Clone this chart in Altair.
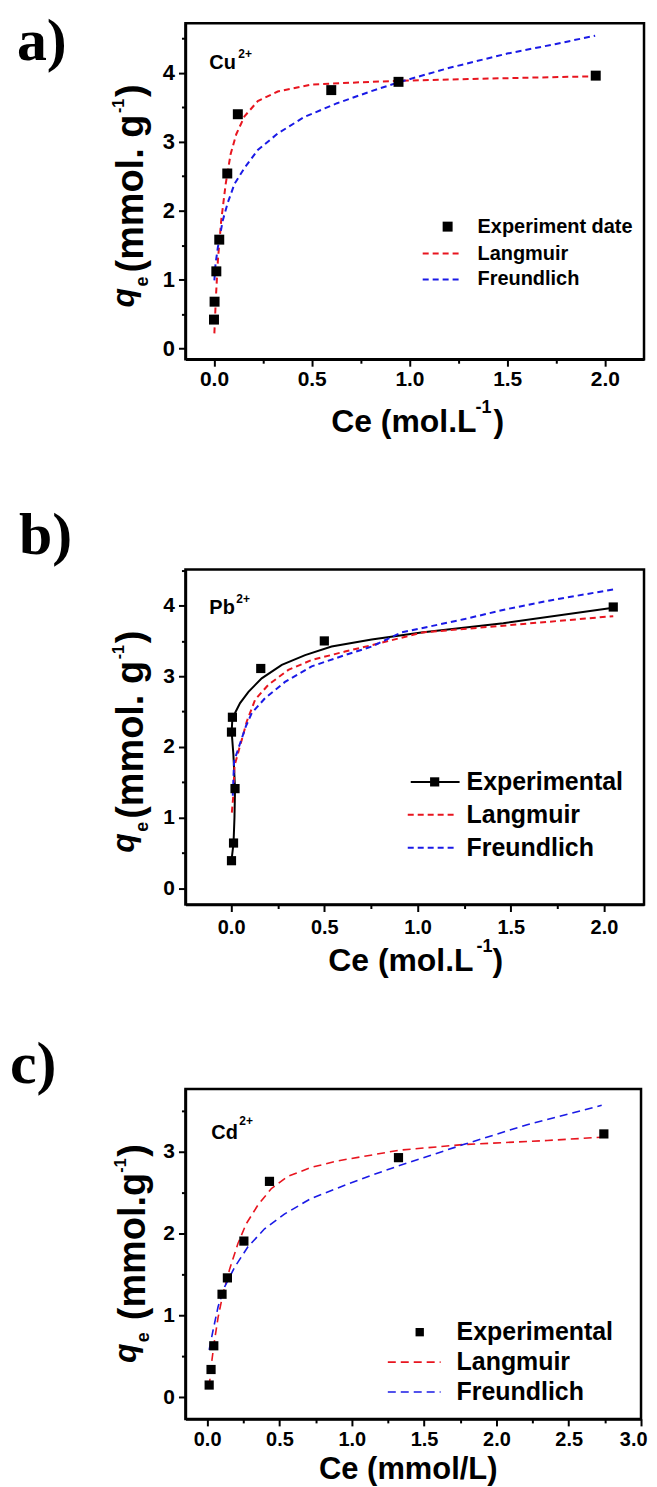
import altair as alt
import pandas as pd

SANS = "Liberation Sans, Arial, Helvetica, sans-serif"
SERIF = "Liberation Serif, Times New Roman, serif"
RED = "#e8151f"
BLUE = "#1a1ae6"

# ---------------- Panel a (Cu2+) ----------------
a_exp_x = [0.0, 0.003, 0.012, 0.027, 0.068, 0.122, 0.60, 0.944, 1.953]
a_exp_y = [0.42, 0.68, 1.12, 1.58, 2.54, 3.40, 3.75, 3.87, 3.96]
a_lan_x = [0.002, 0.01, 0.02, 0.037, 0.06, 0.085, 0.114, 0.156, 0.224, 0.326, 0.496, 0.80, 1.0, 1.3, 1.6, 1.95]
a_lan_y = [0.22, 0.75, 1.28, 1.86, 2.39, 2.82, 3.11, 3.37, 3.59, 3.73, 3.83, 3.87, 3.89, 3.91, 3.93, 3.95]
a_fre_x = [0.002, 0.008, 0.02, 0.029, 0.045, 0.071, 0.105, 0.156, 0.224, 0.326, 0.462, 0.63, 0.80, 0.94, 1.2, 1.5, 1.75, 1.95]
a_fre_y = [0.99, 1.23, 1.47, 1.61, 1.86, 2.12, 2.39, 2.62, 2.88, 3.12, 3.36, 3.56, 3.73, 3.86, 4.07, 4.28, 4.42, 4.54]

# ---------------- Panel b (Pb2+) ----------------
b_exp_x = [0.002, 0.013, 0.021, 0.002, 0.007, 0.159, 0.50, 2.05]
b_exp_y = [0.39, 0.64, 1.41, 2.21, 2.42, 3.11, 3.50, 3.98]
b_trend_x = [0.002, 0.013, 0.018, 0.021, 0.012, 0.003, 0.007, 0.021, 0.048, 0.093, 0.164, 0.272, 0.397, 0.539, 0.754, 1.02, 1.46, 2.05]
b_trend_y = [0.39, 0.64, 1.0, 1.41, 1.9, 2.21, 2.42, 2.48, 2.62, 2.78, 2.97, 3.16, 3.30, 3.42, 3.52, 3.62, 3.75, 3.97]
b_lan_x = [0.004, 0.013, 0.018, 0.045, 0.057, 0.084, 0.129, 0.2, 0.307, 0.432, 0.611, 0.754, 1.027, 1.478, 2.05]
b_lan_y = [1.07, 1.35, 1.73, 1.99, 2.10, 2.36, 2.67, 2.88, 3.09, 3.23, 3.35, 3.44, 3.62, 3.72, 3.85]
b_fre_x = [0.009, 0.016, 0.079, 0.111, 0.182, 0.289, 0.432, 0.611, 0.754, 0.914, 1.253, 1.478, 1.704, 2.053]
b_fre_y = [1.31, 1.80, 2.29, 2.48, 2.69, 2.92, 3.14, 3.30, 3.42, 3.62, 3.81, 3.95, 4.07, 4.23]

# ---------------- Panel c (Cd2+) ----------------
c_exp_x = [0.014, 0.027, 0.046, 0.103, 0.14, 0.254, 0.431, 1.323, 2.743]
c_exp_y = [0.15, 0.34, 0.63, 1.26, 1.46, 1.91, 2.64, 2.93, 3.22]
c_lan_x = [0.014, 0.03, 0.048, 0.076, 0.11, 0.156, 0.213, 0.27, 0.351, 0.443, 0.557, 0.718, 0.901, 1.131, 1.323, 1.772, 2.352, 2.728]
c_lan_y = [0.13, 0.41, 0.66, 0.98, 1.27, 1.57, 1.88, 2.12, 2.35, 2.55, 2.70, 2.81, 2.89, 2.96, 3.02, 3.09, 3.14, 3.18]
c_fre_x = [0.014, 0.041, 0.076, 0.121, 0.19, 0.282, 0.397, 0.534, 0.718, 0.947, 1.131, 1.323, 1.772, 2.207, 2.728]
c_fre_y = [0.58, 0.82, 1.11, 1.35, 1.59, 1.84, 2.06, 2.24, 2.43, 2.59, 2.71, 2.83, 3.09, 3.33, 3.57]

ONE = alt.Data(values=[{"k": 0}])


def df(xs, ys):
    return pd.DataFrame({"x": xs, "y": ys, "i": list(range(len(xs)))})


def txt(s, x, y, size, align="left", baseline="alphabetic", font=SANS, weight="bold",
        style="normal", angle=0, color="black"):
    return alt.Chart(ONE).mark_text(
        text=s, fontSize=size, align=align, baseline=baseline, font=font,
        fontWeight=weight, fontStyle=style, angle=angle, color=color
    ).encode(x=alt.value(x), y=alt.value(y))


def hline(x1, x2, y, color, dash=None, width=2):
    kw = dict(color=color, strokeWidth=width)
    if dash:
        kw["strokeDash"] = dash
    return alt.Chart(ONE).mark_rule(**kw).encode(
        x=alt.value(x1), x2=alt.value(x2), y=alt.value(y))


def square(x, y, size):
    return alt.Chart(ONE).mark_point(shape="square", filled=True, size=size,
                                     color="black", opacity=1).encode(
        x=alt.value(x), y=alt.value(y))


def steps(lo, hi, st):
    out = []
    v = lo
    while v <= hi + 1e-9:
        out.append(round(v, 3))
        v += st
    return out


XMAJ = "datum.value % 0.5 === 0"
YMAJ = "datum.value % 1 === 0"


def enc(xdom, ydom, xvals, yvals, lab_size, xpad, flush=False):
    xkw = dict(values=xvals,
               labelExpr=XMAJ + " ? format(datum.value, '.1f') : ''",
               title=None, grid=False, labelFontSize=lab_size, labelPadding=xpad,
               labelFlush=flush, labelOverlap=False,
               tickSize={"condition": {"test": XMAJ, "value": 7}, "value": 4})
    if flush:
        xkw["labelFlushOffset"] = 6
    xax = alt.Axis(**xkw)
    yax = alt.Axis(values=yvals, labelExpr=YMAJ + " ? format(datum.value, 'd') : ''",
                   title=None, grid=False, labelFontSize=lab_size + 1, labelPadding=4,
                   labelOverlap=False,
                   tickSize={"condition": {"test": YMAJ, "value": 7}, "value": 4})
    x = alt.X("x:Q", scale=alt.Scale(domain=xdom, nice=False, zero=False), axis=xax)
    y = alt.Y("y:Q", scale=alt.Scale(domain=ydom, nice=False, zero=False), axis=yax)
    return x, y


def curve(data, x, y, color, dash, width):
    return alt.Chart(data).mark_line(color=color, strokeDash=dash, strokeWidth=width).encode(
        x=x, y=y, order="i:Q")


def ytitle(qx, qy, ex, ey, mx, my, main, sx, sy, px, py):
    return [
        txt("q", qx, qy, 32, style="italic", angle=270),
        txt("e", ex, ey, 18, angle=270),
        txt(main, mx, my, 38, angle=270),
        txt("-1", sx, sy, 16, angle=270),
        txt(")", px, py, 38, angle=270),
    ]


def spacer(y):
    return alt.Chart(ONE).mark_rule(color="white", strokeWidth=1).encode(
        x=alt.value(0), x2=alt.value(2), y=alt.value(y))


# ---------- panel a ----------
xa, ya = enc([-0.146, 2.2], [-0.155, 4.72], steps(0, 2.0, 0.25), steps(0, 4.5, 0.5), 21, 2)
pa_layers = [
    curve(df(a_lan_x, a_lan_y), xa, ya, RED, [6, 4], 2),
    curve(df(a_fre_x, a_fre_y), xa, ya, BLUE, [6, 4], 2),
    alt.Chart(df(a_exp_x, a_exp_y)).mark_point(shape="square", filled=True, size=100,
                                               color="black", opacity=1).encode(x=xa, y=ya),
    txt("a)", -169, -10, 60, font=SERIF, baseline="top"),
    txt("Cu", 24, 46, 20),
    txt("2+", 53, 35, 12),
    square(263, 204, 100),
    txt("Experiment date", 293, 204, 20, baseline="middle"),
    hline(238, 278, 231, RED, [6, 4]),
    txt("Langmuir", 293, 231, 20, baseline="middle"),
    hline(238, 278, 257, BLUE, [6, 4]),
    txt("Freundlich", 293, 257, 20, baseline="middle"),
    txt("Ce (mol.L", 292, 410, 32, align="right"),
    txt("-1", 291, 391, 18),
    txt(")", 309, 410, 32),
    spacer(425.5),
] + ytitle(-52, 285, -38, 264, -43, 250, "(mmol. g", -62, 90, -43, 74)
pa = alt.layer(*pa_layers).properties(width=460, height=337)

# ---------- panel b ----------
xb, yb = enc([-0.245, 2.215], [-0.23, 4.51], steps(-0.25, 2.0, 0.25), steps(0, 4.5, 0.5), 20, 6)
pb_layers = [
    alt.Chart(df(b_trend_x, b_trend_y)).mark_line(color="black", strokeWidth=2).encode(
        x=xb, y=yb, order="i:Q"),
    curve(df(b_lan_x, b_lan_y), xb, yb, RED, [6, 4], 2),
    curve(df(b_fre_x, b_fre_y), xb, yb, BLUE, [6, 4], 2),
    alt.Chart(df(b_exp_x, b_exp_y)).mark_point(shape="square", filled=True, size=85,
                                               color="black", opacity=1).encode(x=xb, y=yb),
    txt("b)", -167, -63, 60, font=SERIF, baseline="top"),
    txt("Pb", 24, 45, 20),
    txt("2+", 51, 34, 12),
    hline(226, 275, 213, "black", None, 2),
    square(250, 213, 85),
    txt("Experimental", 282, 213, 25, baseline="middle"),
    hline(223, 271, 246, RED, [6, 4]),
    txt("Langmuir", 282, 246, 25, baseline="middle"),
    hline(223, 271, 279, BLUE, [6, 4]),
    txt("Freundlich", 282, 279, 25, baseline="middle"),
    txt("Ce (mol.L", 289, 403, 32, align="right"),
    txt("-1", 292, 384, 18),
    txt(")", 308, 403, 32),
] + ytitle(-52, 284, -38, 263, -43, 250, "(mmol. g", -62, 90, -43, 74)
pb = alt.layer(*pb_layers).properties(width=460, height=336)

# ---------- panel c ----------
xc, yc = enc([-0.15, 3.0], [-0.264, 3.77], steps(0, 3.0, 0.25), steps(0, 3.5, 0.5), 20, 4, flush=True)
pc_layers = [
    curve(df(c_lan_x, c_lan_y), xc, yc, RED, [8, 5], 1.6),
    curve(df(c_fre_x, c_fre_y), xc, yc, BLUE, [8, 5], 1.6),
    alt.Chart(df(c_exp_x, c_exp_y)).mark_point(shape="square", filled=True, size=85,
                                               color="black", opacity=1).encode(x=xc, y=yc),
    txt("c)", -176, -53, 60, font=SERIF, baseline="top"),
    txt("Cd", 26, 50, 20),
    txt("2+", 54, 36, 12),
    square(235, 244, 70),
    txt("Experimental", 272, 244, 25, baseline="middle"),
    hline(203, 256, 274, RED, [8, 5], 1.6),
    txt("Langmuir", 272, 274, 25, baseline="middle"),
    hline(203, 256, 304, BLUE, [8, 5], 1.6),
    txt("Freundlich", 272, 304, 25, baseline="middle"),
    txt("Ce (mmol/L)", 134, 391, 31),
] + ytitle(-50, 275, -37, 254, -41, 232, "(mmol.g", -60, 84, -41, 68)
pc = alt.layer(*pc_layers).properties(width=457, height=331)

chart = alt.vconcat(pa, pb, pc, spacing=54).properties(
    padding=0, background="white"
).configure_view(
    stroke="black", strokeWidth=2.5
).configure_axis(
    domainColor="black", domainWidth=2.5, tickColor="black", tickWidth=2,
    labelColor="black", labelFont=SANS, labelFontWeight="bold"
)

chart.save("out.html", embed_options={"renderer": "svg", "actions": False})
